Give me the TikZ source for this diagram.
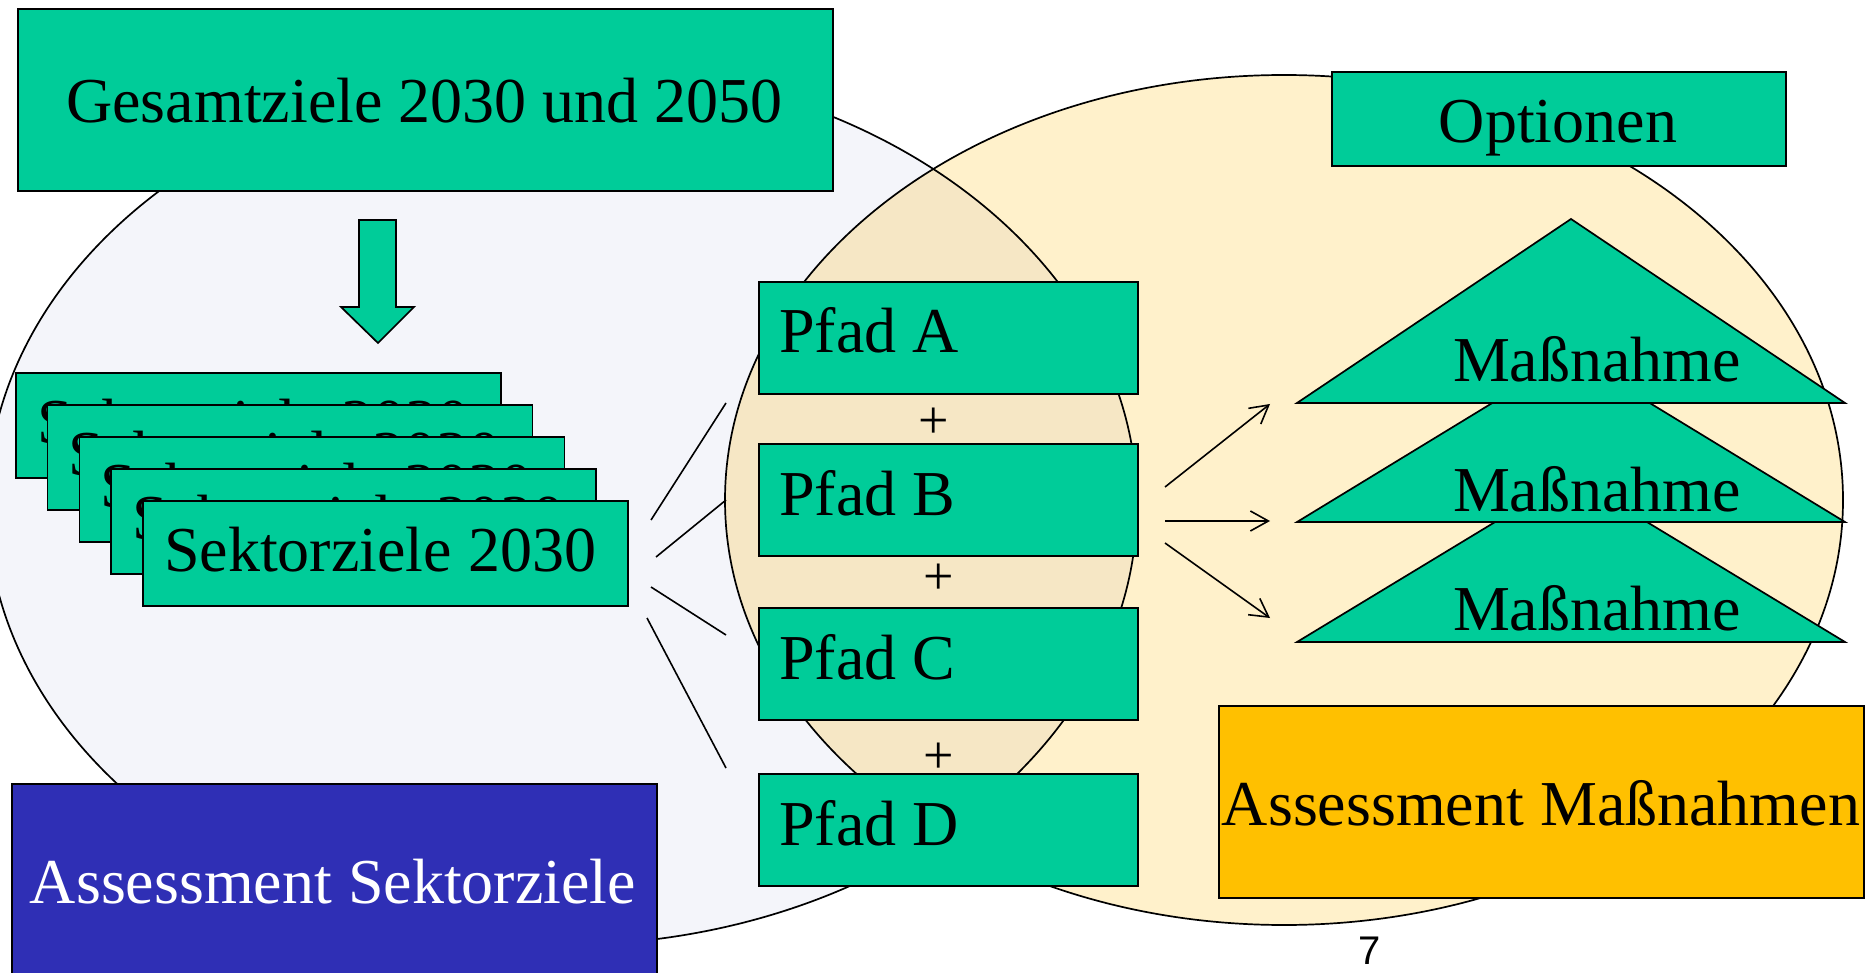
\documentclass[tikz,border=0pt]{standalone}
\usepackage{fontspec}
\setmainfont{Liberation Serif}
\newfontfamily\pgnumfont{Liberation Sans}
\usetikzlibrary{arrows.meta}
\definecolor{grn}{HTML}{00CC99}
\definecolor{lellfill}{HTML}{F4F5FA}
\definecolor{rellfill}{HTML}{FFF1CB}
\definecolor{ovfill}{HTML}{F6E7C5}
\definecolor{dkblue}{HTML}{2F2FB5}
\definecolor{amber}{HTML}{FFC000}
\tikzset{
  box/.style={draw=black, line width=1.7pt, fill=grn, rectangle, inner sep=0pt, anchor=north west},
  lbl/.style={font=\fontsize{64}{70}\selectfont, inner sep=0pt},
  plus/.style={font=\fontsize{54}{58}\selectfont, inner sep=0pt},
  conn/.style={draw=black, line width=1.6pt},
  arr/.style={conn, -{Straight Barb[length=18pt,width=20pt,line width=1.6pt]}},
  tri/.style={draw=black, line width=1.7pt, fill=grn, line join=miter},
  ell/.style={draw=black, line width=1.7pt},
}
\begin{document}
\begin{tikzpicture}[x=1pt,y=-1pt]
\clip (0,0) rectangle (1866,973);
\fill[white] (0,0) rectangle (1866,973);
% ellipses
\fill[lellfill] (562,505) ellipse [x radius=575pt, y radius=440pt];
\fill[rellfill] (1284,500) ellipse [x radius=559pt, y radius=425pt];
\begin{scope}
  \clip (562,505) ellipse [x radius=575pt, y radius=440pt];
  \fill[ovfill] (1284,500) ellipse [x radius=559pt, y radius=425pt];
\end{scope}
\draw[ell] (562,505) ellipse [x radius=575pt, y radius=440pt];
\draw[ell] (1284,500) ellipse [x radius=559pt, y radius=425pt];

% top box
\node[box, minimum width=815pt, minimum height=182pt] (gz) at (17,8) {};
\node[lbl, anchor=base] (gzt) at (424.5,123) {Gesamtziele 2030 und 2050};

% block arrow
\draw[tri] (359,220) -- (396,220) -- (396,307) -- (414,307) -- (378,343) -- (341,307) -- (359,307) -- cycle;

% stacked sector boxes
\foreach \i in {0,...,4}{
  \node[box, minimum width=485pt, minimum height=105pt] (sk\i) at ({15+31.75*\i},{372+32*\i}) {};
  \node[lbl, anchor=base west] (skt\i) at ([shift={(22,71)}]sk\i.north west) {Sektorziele 2030};
}

% connector lines sector -> paths
\coordinate (l1a) at (651,520); \coordinate (l1b) at (726,403);
\coordinate (l2a) at (656,557); \coordinate (l2b) at (726,500);
\coordinate (l3a) at (651,587); \coordinate (l3b) at (726,635);
\coordinate (l4a) at (647,618); \coordinate (l4b) at (726,768);
\draw[conn] (l1a) -- (l1b);
\draw[conn] (l2a) -- (l2b);
\draw[conn] (l3a) -- (l3b);
\draw[conn] (l4a) -- (l4b);

% path boxes
\node[box, minimum width=379pt, minimum height=112pt] (pa) at (758,281) {};
\node[box, minimum width=379pt, minimum height=112pt] (pb) at (758,443) {};
\node[box, minimum width=379pt, minimum height=112pt] (pc) at (758,607) {};
\node[box, minimum width=379pt, minimum height=112pt] (pd) at (758,773) {};
\node[lbl, anchor=base west] (pat) at ([shift={(21,72)}]pa.north west) {Pfad A};
\node[lbl, anchor=base west] (pbt) at ([shift={(21,72)}]pb.north west) {Pfad B};
\node[lbl, anchor=base west] (pct) at ([shift={(21,72)}]pc.north west) {Pfad C};
\node[lbl, anchor=base west] (pdt) at ([shift={(21,72)}]pd.north west) {Pfad D};
\node[plus] (pl1) at (934,423) {+};
\node[plus] (pl2) at (939,579) {+};
\node[plus] (pl3) at (939,758) {+};

% arrows to measures
\coordinate (a1s) at (1165,487); \coordinate (a1e) at (1270,404);
\coordinate (a2s) at (1165,521); \coordinate (a2e) at (1270,521);
\coordinate (a3s) at (1165,543); \coordinate (a3e) at (1270,618);
\draw[arr] (a1s) -- (a1e);
\draw[arr] (a2s) -- (a2e);
\draw[arr] (a3s) -- (a3e);

% triangles
\draw[tri] (1297,642) -- (1571,476) -- (1845,642) -- cycle;
\draw[tri] (1297,522) -- (1571,355) -- (1845,522) -- cycle;
\draw[tri] (1297,403) -- (1571,219) -- (1845,403) -- cycle;
\node[lbl, anchor=base] (m1) at (1597,382) {Maßnahme};
\node[lbl, anchor=base] (m2) at (1597,511) {Maßnahme};
\node[lbl, anchor=base] (m3) at (1597,630) {Maßnahme};

% Optionen
\node[box, minimum width=454pt, minimum height=94pt] (op) at (1331,71) {};
\node[lbl, anchor=base] (opt) at (1558,143) {Optionen};

% assessment boxes
\node[box, fill=amber, minimum width=645pt, minimum height=192pt] (am) at (1218,705) {};
\node[lbl, anchor=base] (amt) at (1541,825) {Assessment Maßnahmen};
\node[box, fill=dkblue, minimum width=645pt, minimum height=230pt] (as) at (11,783) {};
\node[lbl, anchor=base, text=white] (ast) at (333,903) {Assessment Sektorziele};

% page number
\node[font=\pgnumfont\fontsize{40}{44}\selectfont, anchor=base, inner sep=0pt] (pg) at (1370,964) {7};
\end{tikzpicture}
\end{document}
